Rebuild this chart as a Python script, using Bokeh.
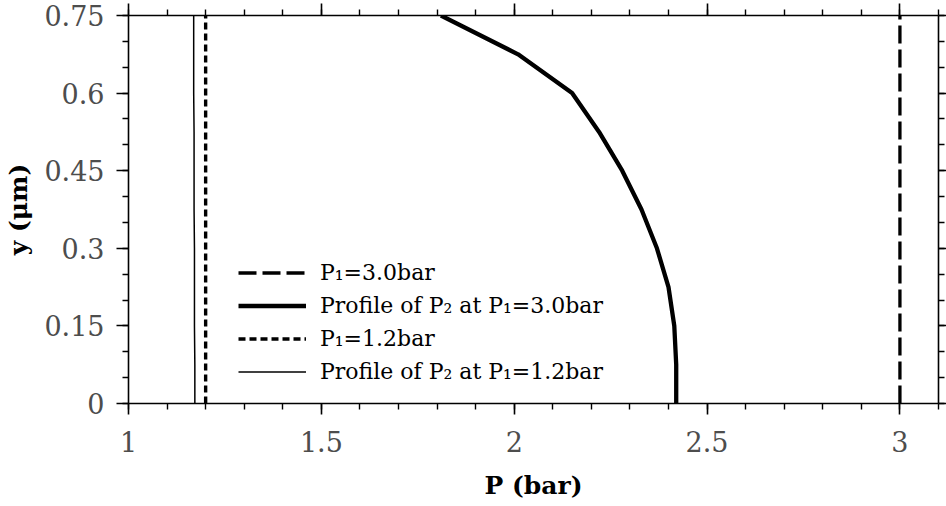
from bokeh.plotting import figure
from bokeh.models import (Range1d, LinearAxis, FixedTicker, Legend, LegendItem)
from bokeh.embed import file_html
from bokeh.resources import INLINE
import numpy as np

# Height across the channel (um) at which the pressure profiles are sampled
y_um = [0.0, 0.075, 0.15, 0.225, 0.3, 0.375, 0.45, 0.525, 0.6, 0.675, 0.75]

# Profile of P2 for an inlet pressure P1 = 3.0 bar
p2_at_3_0 = [2.42, 2.42, 2.415, 2.40, 2.37, 2.33, 2.28, 2.22, 2.15, 2.01, 1.81]
# Profile of P2 for an inlet pressure P1 = 1.2 bar
p2_at_1_2 = [1.172, 1.172, 1.171, 1.171, 1.171, 1.170, 1.170, 1.170, 1.169, 1.169, 1.169]

# Inlet pressures P1 (bar)
p1_high = 3.0
p1_low = 1.2

x_ticks = [1, 1.5, 2, 2.5, 3]
x_tick_labels = ["1", "1.5", "2", "2.5", "3"]
y_ticks = [0, 0.15, 0.3, 0.45, 0.6, 0.75]
y_tick_labels = ["0", "0.15", "0.3", "0.45", "0.6", "0.75"]

SERIF = "DejaVu Serif"

p = figure(width=946, height=506, output_backend="svg", toolbar_location=None,
           x_range=Range1d(1, 3.1), y_range=Range1d(0, 0.75),
           min_border_left=128, min_border_right=8, min_border_top=15,
           min_border_bottom=103, outline_line_color=None)
p.grid.visible = False
p.background_fill_color = "white"
p.border_fill_color = "white"

x_minor = [float(v) for v in np.round(np.arange(1.0, 3.1001, 0.1), 2)]
y_minor = [float(v) for v in np.round(np.arange(0.0, 0.7501, 0.05), 2)]
xt = FixedTicker(ticks=x_ticks, minor_ticks=x_minor)
yt = FixedTicker(ticks=y_ticks, minor_ticks=y_minor)


def style_axis(ax, ticker, labels, show_labels, tick_out):
    ax.ticker = ticker
    ax.axis_line_width = 1.6
    ax.axis_line_color = "black"
    ax.major_tick_line_width = 1.6
    ax.minor_tick_line_width = 1.4
    ax.major_tick_line_color = "black"
    ax.minor_tick_line_color = "black"
    ax.major_tick_in = 0
    ax.minor_tick_in = 0
    ax.major_tick_out = tick_out
    ax.minor_tick_out = 6
    if show_labels:
        ax.major_label_overrides = labels
        ax.major_label_text_font = SERIF
        ax.major_label_text_font_size = "27px"
        ax.major_label_text_color = "#4d4d4d"
        ax.axis_label_text_font = SERIF
        ax.axis_label_text_font_size = "25px"
        ax.axis_label_text_font_style = "bold"
        ax.axis_label_text_color = "black"
    else:
        # tick marks only on the mirrored frame sides
        ax.major_label_text_color = None
        ax.major_label_text_font_size = "1px"
        ax.major_label_standoff = 0
        ax.axis_label = None


xb = p.xaxis[0]
yl = p.yaxis[0]
style_axis(xb, xt, dict(zip(x_ticks, x_tick_labels)), True, 11)
style_axis(yl, yt, dict(zip(y_ticks, y_tick_labels)), True, 12)
xb.axis_label = "P (bar)"
yl.axis_label = "y (\u03bcm)"
xb.major_label_standoff = 16
xb.axis_label_standoff = 16
yl.major_label_standoff = 12
yl.axis_label_standoff = 8

top_ax = LinearAxis()
right_ax = LinearAxis()
style_axis(top_ax, xt, {}, False, 12)
style_axis(right_ax, yt, {}, False, 8)
p.add_layout(top_ax, "above")
p.add_layout(right_ax, "right")

# Inlet pressure levels
r_p1_high = p.line([p1_high, p1_high], [y_um[0], y_um[-1]], line_color="black",
                   line_width=3.3, line_dash="18 6")
r_p1_low = p.line([p1_low, p1_low], [y_um[0], y_um[-1]], line_color="black",
                  line_width=3.4, line_dash="7 4")

# Pressure profiles
r_prof_high = p.line(p2_at_3_0, y_um, line_color="black", line_width=4.3)
r_prof_low = p.line(p2_at_1_2, y_um, line_color="black", line_width=1.5)

legend = Legend(items=[
    LegendItem(label="P\u2081=3.0bar", renderers=[r_p1_high]),
    LegendItem(label="Profile of P\u2082 at P\u2081=3.0bar", renderers=[r_prof_high]),
    LegendItem(label="P\u2081=1.2bar", renderers=[r_p1_low]),
    LegendItem(label="Profile of P\u2082 at P\u2081=1.2bar", renderers=[r_prof_low]),
], location=(110, 15))
legend.border_line_color = None
legend.background_fill_alpha = 0
legend.padding = 0
legend.margin = 0
legend.spacing = 0
legend.glyph_width = 68
legend.glyph_height = 33
legend.label_height = 33
legend.label_standoff = 14
legend.label_text_font = SERIF
legend.label_text_font_size = "22px"
legend.label_text_color = "black"
p.add_layout(legend, "center")

open("out.html", "w").write(file_html(p, INLINE))
